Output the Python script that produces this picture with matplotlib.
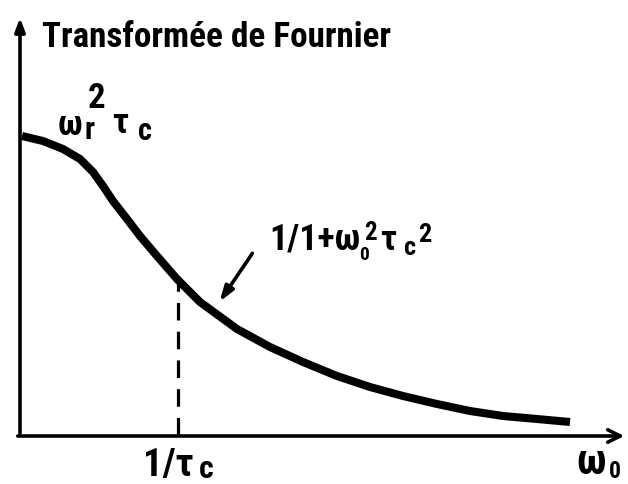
import numpy as np
import matplotlib.pyplot as plt
from matplotlib import font_manager

# points (origin = corner of the axes, arbitrary units)
omega = [2, 23, 43, 60, 73, 83, 93, 107, 120, 137, 157, 180, 217, 250, 283, 317, 350, 383, 417, 450, 483, 517, 550]
spectre = [299, 294, 286, 276, 263, 249, 234, 216, 199, 179, 156, 133, 106, 88, 73, 59, 48, 39, 31, 24, 19, 16, 13]
omega_c = 158     # position of 1/tau_c
y_c = 153         # where the dashed line meets the curve

titre = 'Transformée de Fournier'

# pick a narrow font if there is one
noms = {f.name for f in font_manager.fontManager.ttflist}
police = 'DejaVu Sans'
for n in ['Roboto Condensed', 'Liberation Sans Narrow', 'DejaVu Sans Condensed', 'Roboto']:
    if n in noms:
        police = n
        break
plt.rcParams['font.family'] = police
plt.rcParams['font.weight'] = 'bold'

fig = plt.figure(figsize=(6.28, 4.85), dpi=100)
ax = fig.add_axes([0, 0, 1, 1])
ax.set_xlim(-20, 608)
ax.set_ylim(-49, 436)
ax.axis('off')
rend = fig.canvas.get_renderer()

def texte(x, y, s, taille, largeur=None):
    # baseline at (x, y); optionally rescale so the width matches the drawing
    t = ax.text(x, y, s, fontsize=taille, va='baseline', ha='left')
    if largeur:
        w = t.get_window_extent(rend).width
        t.set_fontsize(taille * largeur / w)
    return t

# axes drawn as arrows
ax.annotate('', xy=(0, 420), xytext=(0, -1),
            arrowprops=dict(arrowstyle='-|>,head_length=0.8,head_width=0.3', lw=2.6, color='k'))
ax.annotate('', xy=(607, -1), xytext=(-5, -1),
            arrowprops=dict(arrowstyle='->,head_length=0.9,head_width=0.45', lw=2.6, color='k'))

# the curve
ax.plot(omega, spectre, color='k', lw=5.8, solid_capstyle='butt', solid_joinstyle='round')
ax.plot([omega_c, omega_c], [0, y_c], color='k', lw=2.3, dashes=(5.5, 3.5))

# arrow pointing to the curve
ax.annotate('', xy=(198, 131), xytext=(234, 184),
            arrowprops=dict(arrowstyle='-|>,head_length=0.9,head_width=0.3', lw=2.6, color='k'))

texte(22, 389, titre, 24, largeur=350)

# omega_r^2 tau_c
texte(38, 301, 'ω', 25)
texte(65, 297, 'r', 22)
texte(68, 328, '2', 25)
texte(92, 303, 'τ', 25)
texte(118, 296, 'c', 22)

# 1/1+omega_0^2 tau_c^2
texte(249, 186, '1/1+ω', 26)
texte(339, 176, '0', 14)
texte(344, 196, '2', 18)
texte(360, 186, 'τ', 25)
texte(383, 181, 'c', 19)
texte(398, 194, '2', 19)

# axis labels
texte(123, -40, '1/τ', 28)
texte(179, -42, 'c', 23)
texte(556, -38, 'ω', 30)
texte(589, -42, '0', 17)

fig.savefig('out.png', dpi=100, facecolor='white')
